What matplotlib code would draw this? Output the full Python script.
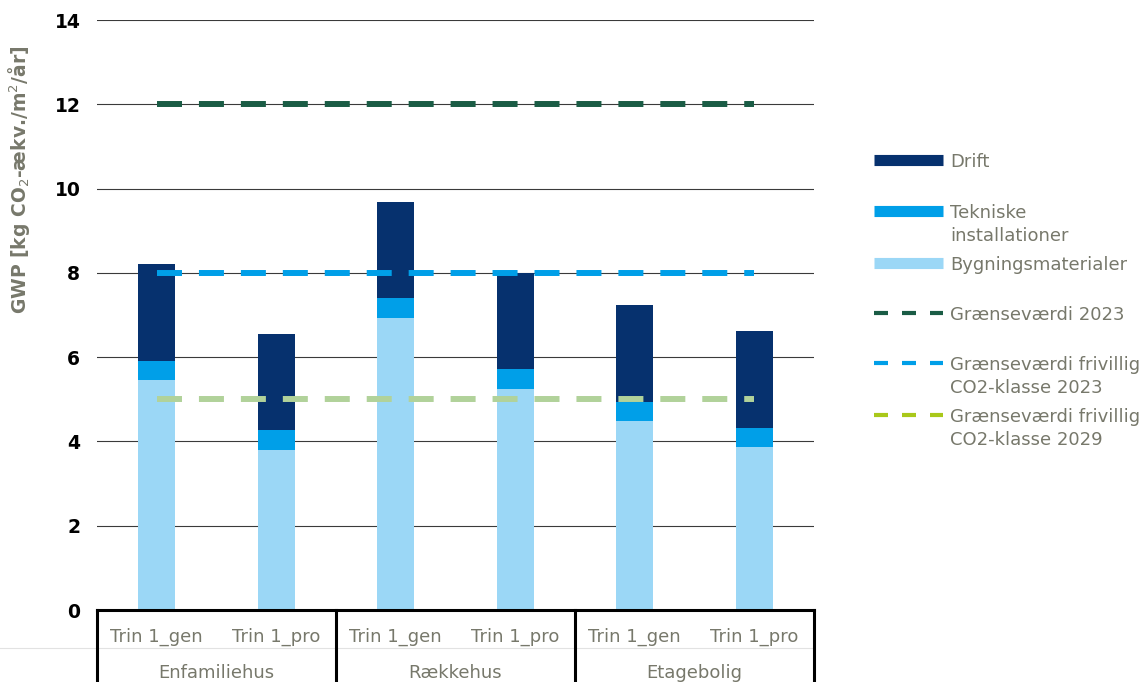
import matplotlib.pyplot as plt
import numpy as np
from matplotlib.lines import Line2D

# values
groups = ['Enfamiliehus', 'Rækkehus', 'Etagebolig']
variants = ['Trin 1_gen', 'Trin 1_pro']
bygning = [5.46, 3.80, 6.94, 5.24, 4.49, 3.86]
teknisk = [0.46, 0.46, 0.46, 0.48, 0.45, 0.45]
drift = [2.29, 2.28, 2.29, 2.28, 2.30, 2.30]
limit_2023 = 12
limit_co2_2023 = 8
limit_co2_2029 = 5
yticks = [0, 2, 4, 6, 8, 10, 12, 14]

c_drift = '#06316e'
c_tek = '#009fe8'
c_byg = '#9bd7f6'
c_g23 = '#1a5c45'
c_f23 = '#009fe8'
c_f29 = '#b1d29a'
c_f29_leg = '#a9c81a'
grey_txt = '#77786b'

W, H = 1148, 682
fig = plt.figure(figsize=(W / 100, H / 100), dpi=100)
ax = fig.add_axes([97 / W, 1 - 610 / H, 717 / W, 590 / H])

x = np.arange(len(bygning))
labels = variants * len(groups)
w = 0.31
bottom2 = np.array(bygning) + np.array(teknisk)
ax.bar(x, bygning, w, color=c_byg, zorder=2)
ax.bar(x, teknisk, w, bottom=bygning, color=c_tek, zorder=2)
ax.bar(x, drift, w, bottom=bottom2, color=c_drift, zorder=2)

dash = dict(lw=4.3, dashes=(18 / 4.3, 12.2 / 4.3), solid_capstyle='butt', dash_capstyle='butt')
ax.plot(x, [limit_co2_2029] * len(x), color=c_f29, zorder=3, **dash)
ax.plot(x, [limit_co2_2023] * len(x), color=c_f23, zorder=3, **dash)
ax.plot(x, [limit_2023] * len(x), color=c_g23, zorder=3, **dash)

ax.set_xlim(-0.5, len(x) - 0.5)
ax.set_ylim(0, 14)
ax.set_yticks(yticks)
ax.set_yticklabels([str(t) for t in yticks], fontsize=13.5, fontweight='bold', color='black')
ax.tick_params(axis='y', length=0, pad=12)
ax.set_xticks([])
ax.yaxis.grid(True, color='#3a3a3a', lw=0.8, zorder=1)
ax.set_axisbelow(True)
for s in ['left', 'right', 'top']:
    ax.spines[s].set_visible(False)
ax.spines['bottom'].set_linewidth(2.2)
ax.spines['bottom'].set_color('black')
ax.spines['bottom'].set_zorder(4)

ax.set_ylabel('GWP [kg CO$_2$-ækv./m$^2$/år]', fontsize=13.5, fontweight='bold', color=grey_txt)
ax.yaxis.set_label_coords(-0.09, 0.73)

# two-level category axis below the plot
trans = ax.get_xaxis_transform()
ax.plot([-0.135, 1], [-0.065, -0.065], transform=ax.transAxes, color='#e2e2e2', lw=0.8, clip_on=False)
for i, lab in enumerate(labels):
    ax.text(i, -0.046, lab, transform=trans, ha='center', va='center',
            fontsize=13, color=grey_txt)
for g, name in enumerate(groups):
    mid = g * len(variants) + (len(variants) - 1) / 2
    ax.text(mid, -0.107, name, transform=trans, ha='center', va='center',
            fontsize=13, color=grey_txt)
for b in np.arange(len(groups) + 1) * len(variants) - 0.5:
    ax.plot([b, b], [0, -0.14], transform=trans, color='black', lw=2.2, clip_on=False)

# legend drawn by hand so that entries sit like in the reference
legend_items = [
    (['Drift'], dict(color=c_drift, lw=8, solid_capstyle='butt'), 160),
    (['Tekniske', 'installationer'], dict(color=c_tek, lw=8, solid_capstyle='butt'), 211),
    (['Bygningsmaterialer'], dict(color=c_byg, lw=8, solid_capstyle='butt'), 263),
    (['Grænseværdi 2023'], dict(color=c_g23, lw=3, dashes=(3.36, 3.36)), 313),
    (['Grænseværdi frivillig', 'CO2-klasse 2023'], dict(color=c_f23, lw=3, dashes=(3.36, 3.36)), 363),
    (['Grænseværdi frivillig', 'CO2-klasse 2029'], dict(color=c_f29_leg, lw=3, dashes=(3.36, 3.36)), 415),
]
for lines, style, ypx in legend_items:
    yf = 1 - ypx / H
    fig.add_artist(Line2D([874 / W, 943 / W], [yf, yf], transform=fig.transFigure, **style))
    for k, line in enumerate(lines):
        fig.text(950 / W, 1 - (ypx + 23 * k) / H, line, fontsize=13, color=grey_txt,
                 ha='left', va='center_baseline')

fig.savefig('out.png', dpi=100)
